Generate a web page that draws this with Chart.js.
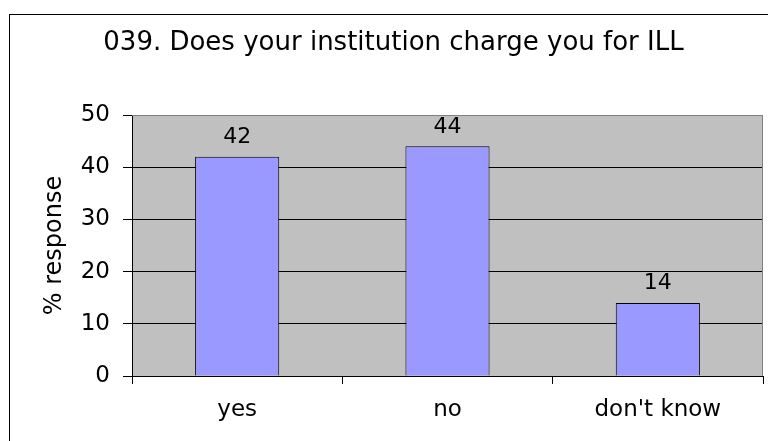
<!DOCTYPE html>
<html>
<head>
<meta charset="utf-8">
<title>039</title>
<script src="https://cdn.jsdelivr.net/npm/chart.js"></script>
<style>
    html, body { margin: 0; padding: 0; background: #fff; }
    canvas { display: block; }
</style>
</head>
<body>
<canvas id="BarChart" width="768" height="441"></canvas>
<script>
    /** データ */
    var categories = ['yes', 'no', "don't know"];
    var responses  = [42, 44, 14];
    var yMin  = 0;
    var yMax  = 50;
    var yStep = 10;

    var fontFamily = "'DejaVu Sans', Verdana, sans-serif";

    /** 外枠・背景 */
    var framePlugin = {
        id: 'frame',
        beforeDraw: function (chart) {
            var ctx  = chart.ctx;
            var area = chart.chartArea;
            ctx.save();
            ctx.fillStyle = '#ffffff';
            ctx.fillRect(0, 0, chart.width, chart.height);
            // chart border (runs off the right/bottom edge)
            ctx.strokeStyle = '#000000';
            ctx.lineWidth   = 1;
            ctx.strokeRect(9.5, 14.5, chart.width + 10, chart.height + 10);
            // plot area
            ctx.fillStyle = '#c0c0c0';
            ctx.fillRect(area.left, area.top, area.right - area.left, area.bottom - area.top);
            ctx.restore();
        },
        afterDraw: function (chart) {
            var ctx  = chart.ctx;
            var area = chart.chartArea;
            ctx.save();
            ctx.strokeStyle = '#808080';
            ctx.lineWidth   = 1;
            ctx.beginPath();
            ctx.moveTo(area.left, Math.round(area.top) + 0.5);
            ctx.lineTo(Math.round(area.right) - 0.5, Math.round(area.top) + 0.5);
            ctx.lineTo(Math.round(area.right) - 0.5, area.bottom);
            ctx.stroke();
            ctx.restore();
        }
    };

    /** 値ラベル */
    var valueLabelPlugin = {
        id: 'valueLabel',
        afterDatasetsDraw: function (chart) {
            var ctx  = chart.ctx;
            var meta = chart.getDatasetMeta(0);
            ctx.save();
            ctx.fillStyle    = '#000000';
            ctx.font         = '22px ' + fontFamily;
            ctx.textAlign    = 'center';
            ctx.textBaseline = 'alphabetic';
            meta.data.forEach(function (bar, i) {
                ctx.fillText(String(chart.data.datasets[0].data[i]), bar.x, bar.y - 13.5);
            });
            ctx.restore();
        }
    };

    /** Bar */
    var BarChartCanvas = document.getElementById('BarChart').getContext('2d');
    var BarChart = new Chart(BarChartCanvas, {
        type: 'bar',
        data: {
            labels  : categories,
            datasets: [
                {
                    label          : '% response',
                    data           : responses,
                    backgroundColor: '#9999ff',
                    borderColor    : '#000000',
                    borderWidth    : 1,
                    barPercentage  : 0.4,
                    categoryPercentage: 1.0
                }
            ]
        },
        options: {
            responsive: false,
            animation : false,
            layout: {
                padding: { left: 24, right: 5, top: 14, bottom: 0 }
            },
            plugins: {
                legend : { display: false },
                tooltip: { enabled: false },
                title  : {
                    display: true,
                    text   : '039. Does your institution charge you for ILL',
                    color  : '#000000',
                    font   : { family: fontFamily, size: 26, weight: 'normal', lineHeight: 1.2 },
                    padding: { top: 14, bottom: 55.8 }
                }
            },
            scales: {
                x: {
                    grid: {
                        drawOnChartArea: false,
                        color          : '#000000',
                        tickLength     : 8
                    },
                    border: { color: '#000000' },
                    ticks: {
                        color  : '#000000',
                        padding: 12,
                        font   : { family: fontFamily, size: 23 }
                    },
                    afterFit: function (scale) { scale.height = 65; }
                },
                y: {
                    min: yMin,
                    max: yMax,
                    grid: {
                        color    : function (c) { return c.tick && c.tick.value === yMax ? '#808080' : '#000000'; },
                        tickColor: '#000000',
                        tickLength: 9
                    },
                    border: { color: '#000000' },
                    ticks: {
                        stepSize: yStep,
                        color   : '#000000',
                        padding : 13,
                        font    : { family: fontFamily, size: 23 }
                    },
                    title: {
                        display: true,
                        text   : '% response',
                        color  : '#000000',
                        font   : { family: fontFamily, size: 24 },
                        padding: { top: 16.6, bottom: 0 }
                    },
                    afterFit: function (scale) { scale.width = 108; }
                }
            }
        },
        plugins: [framePlugin, valueLabelPlugin]
    });
</script>
</body>
</html>
